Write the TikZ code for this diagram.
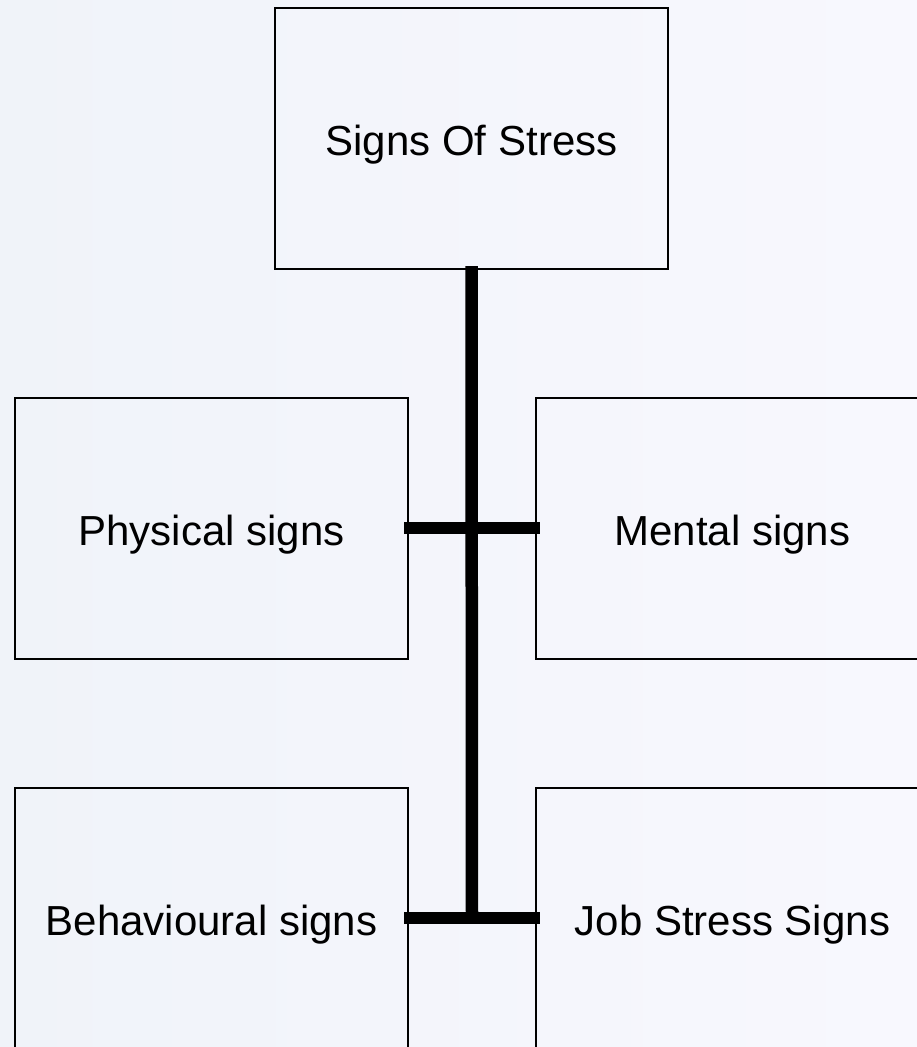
\documentclass[tikz,border=0pt]{standalone}
\usepackage{fontspec}
\setmainfont{Liberation Sans}
\definecolor{bgleft}{HTML}{F0F3F9}
\definecolor{bgright}{HTML}{F8F8FE}
\begin{document}
\begin{tikzpicture}[x=1pt,y=-1pt,
  box/.style={draw=black,line width=2pt,rectangle,minimum width=393pt,minimum height=261pt,inner sep=0pt,outer sep=0pt,text height=34pt,text depth=0pt,font=\fontsize{42}{50}\selectfont},
  conn/.style={line width=12.5pt,black}]
\useasboundingbox (0,0) rectangle (917,1047);
\clip (0,0) rectangle (917,1047);
\shade[left color=bgleft,right color=bgright] (0,0) rectangle (917,1047);
\node[box] (top) at (471.5,138.5) {Signs Of Stress};
\node[box] (phys) at (211.5,528) {Physical signs};
\node[box] (ment) at (732.5,528) {Mental signs};
\node[box] (behav) at (211.5,918) {Behavioural signs};
\node[box] (job) at (732.5,918) {Job Stress Signs};
\coordinate (hub) at (472,918);
\draw[conn,shorten <=-3pt,shorten >=-4pt] (top.south) -- (hub);
\draw[conn,shorten <=-4pt,shorten >=-4pt] (phys.east) -- (ment.west);
\draw[conn,shorten <=-4pt,shorten >=-4pt] (behav.east) -- (job.west);
\end{tikzpicture}
\end{document}
